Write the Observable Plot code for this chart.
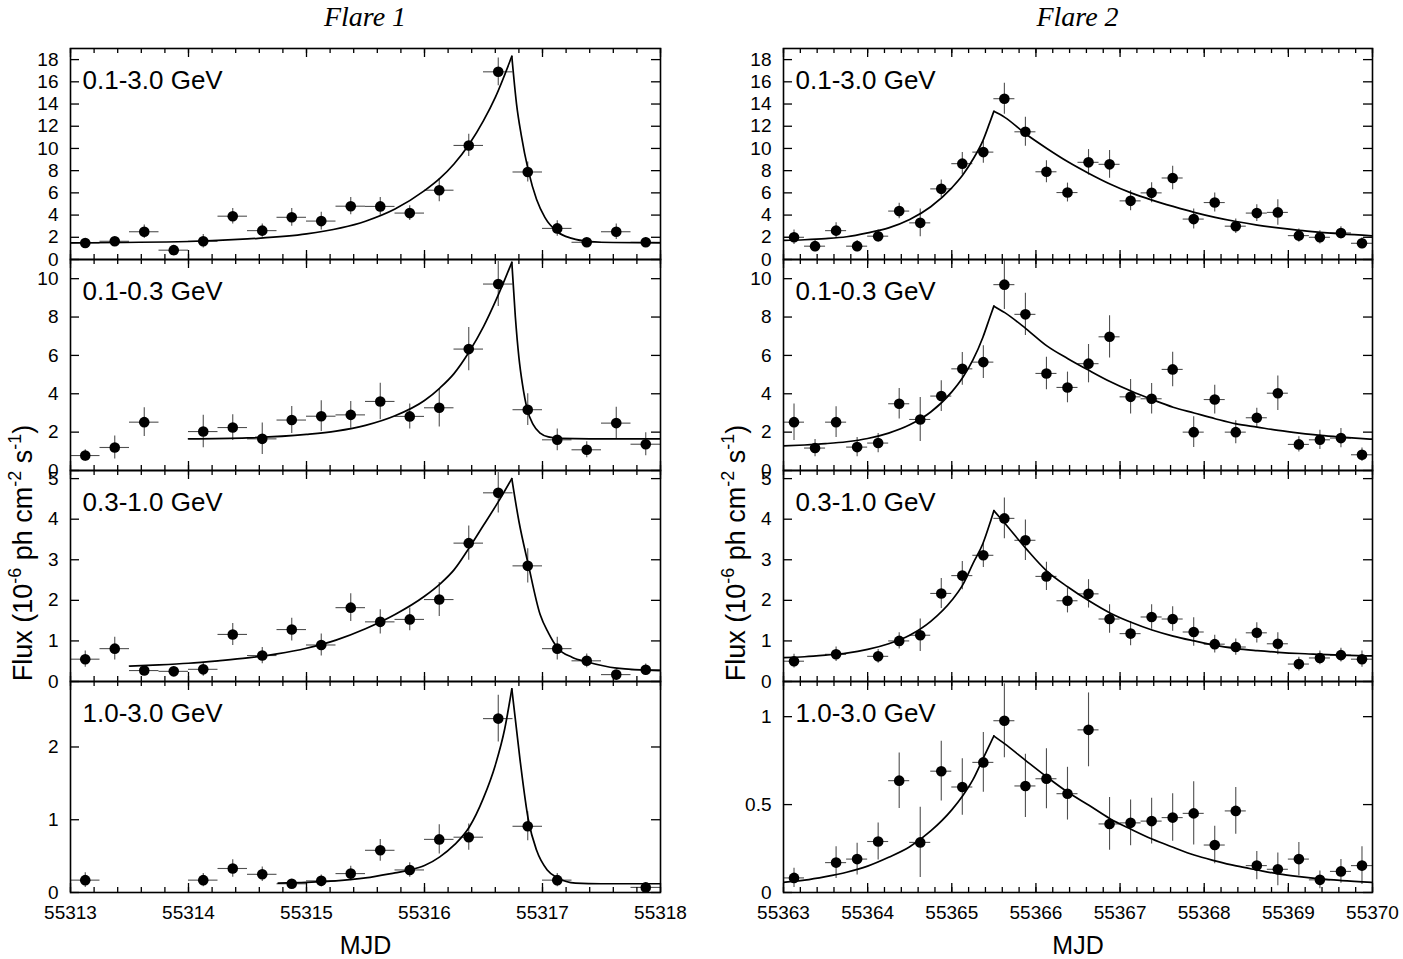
<!DOCTYPE html>
<html><head><meta charset="utf-8">
<script src="https://cdn.jsdelivr.net/npm/d3@7"></script>
<script src="https://cdn.jsdelivr.net/npm/@observablehq/plot@0.6"></script>
<style>
body{margin:0;background:#fff;}
#chart{position:relative;width:1403px;height:959px;overflow:hidden;background:#fff;font-family:"Liberation Sans",Arial,Helvetica,sans-serif;color:#000;}
.title{position:absolute;top:1px;width:300px;text-align:center;font-family:"Liberation Serif","Times New Roman",serif;font-style:italic;font-size:28px;line-height:32px;}
.ytitle{position:absolute;white-space:nowrap;font-size:27px;line-height:30px;transform:translate(-50%,-50%) rotate(-90deg);}
.ytitle sup{font-size:18px;vertical-align:0;position:relative;top:-0.6em;}
</style></head><body><div id="chart"></div>
<script>
// ---------- data ----------
const binHalfWidth = 0.125;
const flare1Times = [55313.125,55313.375,55313.625,55313.875,55314.125,55314.375,55314.625,55314.875,55315.125,55315.375,55315.625,55315.875,55316.125,55316.375,55316.625,55316.875,55317.125,55317.375,55317.625,55317.875];
const flare2Times = [55363.125,55363.375,55363.625,55363.875,55364.125,55364.375,55364.625,55364.875,55365.125,55365.375,55365.625,55365.875,55366.125,55366.375,55366.625,55366.875,55367.125,55367.375,55367.625,55367.875,55368.125,55368.375,55368.625,55368.875,55369.125,55369.375,55369.625,55369.875];

const bandLabels = ["0.1-3.0 GeV","0.1-0.3 GeV","0.3-1.0 GeV","1.0-3.0 GeV"];
const flare1XTicks = [55313,55314,55315,55316,55317,55318];
const flare2XTicks = [55363,55364,55365,55366,55367,55368,55369,55370];
const yTicksBand1 = [0,2,4,6,8,10,12,14,16,18];
const yTicksBand2 = [0,2,4,6,8,10];
const yTicksBand3 = [0,1,2,3,4,5];
const yTicksFlare1Band4 = [0,1,2];
const yTicksFlare2Band4 = [0,0.5,1];

// Flare 1 fluxes (1e-6 ph cm^-2 s^-1) and errors
const f1b1Flux = [1.49,1.64,2.5,0.84,1.64,3.9,2.6,3.8,3.46,4.8,4.78,4.18,6.24,10.27,16.9,7.88,2.8,1.55,2.5,1.55];
const f1b1Err  = [0.3,0.3,0.6,0.25,0.6,0.7,0.6,0.8,0.8,0.78,0.8,0.67,1.05,1.0,1.25,0.9,0.7,0.3,0.7,0.4];
const f1b2Flux = [0.78,1.2,2.52,null,2.03,2.24,1.65,2.63,2.83,2.9,3.6,2.82,3.27,6.33,9.72,3.17,1.6,1.08,2.47,1.37];
const f1b2Err  = [0.3,0.6,0.75,null,0.85,0.67,0.82,0.7,0.8,0.7,0.95,0.65,1.0,1.13,1.17,0.83,0.57,0.42,0.83,0.6];
const f1b3Flux = [0.55,0.81,0.27,0.25,0.3,1.16,0.64,1.28,0.9,1.82,1.47,1.53,2.02,3.41,4.65,2.85,0.81,0.51,0.17,0.29];
const f1b3Err  = [0.2,0.28,0.1,0.1,0.17,0.27,0.2,0.28,0.27,0.34,0.3,0.28,0.42,0.42,0.5,0.42,0.28,0.17,0.1,0.14];
const f1b4Flux = [0.17,null,null,null,0.17,0.33,0.25,0.12,0.16,0.26,0.58,0.31,0.73,0.76,2.39,0.91,0.17,null,null,0.07];
const f1b4Err  = [0.1,null,null,null,0.09,0.12,0.1,0.05,0.08,0.1,0.15,0.1,0.2,0.18,0.32,0.2,0.09,null,null,0.05];

// Flare 2 fluxes and errors
const f2b1Flux = [2.0,1.2,2.6,1.2,2.1,4.36,3.3,6.36,8.63,9.67,14.48,11.5,7.9,6.03,8.75,8.57,5.28,6.0,7.34,3.64,5.13,3.0,4.18,4.24,2.15,2.0,2.39,1.46];
const f2b1Err  = [0.65,0.5,0.7,0.5,0.55,0.7,1.25,0.8,1.0,1.0,1.4,1.3,1.0,0.85,1.15,1.25,0.9,0.9,1.05,0.9,0.85,0.65,0.75,1.15,0.6,0.6,0.55,0.5];
const f2b2Flux = [2.52,1.17,2.52,1.22,1.43,3.48,2.66,3.88,5.3,5.65,9.69,8.14,5.06,4.33,5.57,6.97,3.84,3.74,5.27,2.0,3.7,2.0,2.75,4.03,1.36,1.6,1.69,0.82];
const f2b2Err  = [0.95,0.45,0.8,0.5,0.5,0.8,1.15,0.8,0.85,0.85,1.3,1.1,0.85,0.8,1.0,1.1,0.9,0.8,0.9,0.8,0.75,0.6,0.5,0.9,0.4,0.5,0.5,0.35];
const f2b3Flux = [0.5,null,0.67,null,0.62,1.0,1.14,2.17,2.61,3.11,4.02,3.48,2.59,1.99,2.16,1.54,1.18,1.59,1.54,1.22,0.92,0.85,1.2,0.93,0.43,0.58,0.65,0.55];
const f2b3Err  = [0.17,null,0.18,null,0.17,0.2,0.4,0.37,0.35,0.3,0.5,0.5,0.35,0.3,0.35,0.35,0.3,0.3,0.3,0.35,0.22,0.2,0.25,0.27,0.17,0.17,0.17,0.2];
const f2b4Flux = [0.083,null,0.17,0.19,0.29,0.636,0.285,0.69,0.6,0.74,0.977,0.606,0.647,0.562,0.925,0.39,0.396,0.406,0.426,0.45,0.27,0.464,0.153,0.132,0.19,0.072,0.12,0.153];
const f2b4Err  = [0.055,null,0.09,0.09,0.105,0.158,0.2,0.17,0.16,0.17,0.21,0.18,0.17,0.15,0.21,0.15,0.13,0.13,0.135,0.18,0.107,0.133,0.08,0.093,0.095,0.05,0.068,0.107];

// Fitted light-curve model: rising and decaying branches [MJD, flux]
const f1b1Rise  = [[55313.0,1.5],[55314.0,1.62],[55314.5,1.85],[55315.0,2.3],[55315.5,3.45],[55315.75,4.55],[55316.0,6.2],[55316.13,7.3],[55316.25,8.6],[55316.38,10.4],[55316.5,12.5],[55316.6,14.6],[55316.74,18.3]];
const f1b1Decay = [[55316.74,18.3],[55316.78,14.0],[55316.82,11.2],[55316.88,8.0],[55316.95,5.4],[55317.02,3.8],[55317.125,2.5],[55317.25,1.9],[55317.4,1.62],[55317.6,1.53],[55318.0,1.5]];
const f1b2Rise  = [[55314.0,1.65],[55314.5,1.7],[55315.0,1.88],[55315.25,2.05],[55315.5,2.35],[55315.75,2.85],[55316.0,3.65],[55316.13,4.3],[55316.25,5.05],[55316.38,6.2],[55316.5,7.5],[55316.6,8.8],[55316.68,9.95],[55316.74,10.85]];
const f1b2Decay = [[55316.74,10.85],[55316.77,8.0],[55316.8,5.9],[55316.83,4.5],[55316.87,3.2],[55316.92,2.4],[55316.98,1.95],[55317.05,1.75],[55317.15,1.67],[55317.4,1.65],[55318.0,1.65]];
const f1b3Rise  = [[55313.5,0.38],[55313.75,0.41],[55314.0,0.45],[55314.25,0.51],[55314.5,0.58],[55314.75,0.68],[55315.0,0.82],[55315.25,1.02],[55315.5,1.3],[55315.75,1.65],[55316.0,2.1],[55316.13,2.4],[55316.25,2.75],[55316.38,3.3],[55316.5,3.85],[55316.63,4.45],[55316.74,5.0]];
const f1b3Decay = [[55316.74,5.0],[55316.8,3.95],[55316.88,2.88],[55316.98,1.65],[55317.05,1.2],[55317.13,0.82],[55317.25,0.6],[55317.38,0.48],[55317.63,0.33],[55318.0,0.27]];
const f1b4Rise  = [[55314.76,0.13],[55315.0,0.14],[55315.25,0.16],[55315.5,0.2],[55315.75,0.27],[55315.88,0.31],[55316.0,0.37],[55316.13,0.49],[55316.25,0.65],[55316.38,0.9],[55316.5,1.3],[55316.6,1.75],[55316.68,2.25],[55316.74,2.8]];
const f1b4Decay = [[55316.74,2.8],[55316.81,1.82],[55316.88,1.0],[55316.95,0.58],[55317.04,0.31],[55317.13,0.2],[55317.28,0.13],[55317.5,0.12],[55318.0,0.12]];

const f2b1Rise  = [[55363.0,1.72],[55363.25,1.78],[55363.5,1.88],[55363.75,2.05],[55364.0,2.4],[55364.25,2.85],[55364.5,3.6],[55364.75,4.75],[55365.0,6.45],[55365.13,7.6],[55365.25,9.0],[55365.37,10.7],[55365.45,12.3],[55365.5,13.34]];
const f2b1Decay = [[55365.5,13.34],[55365.63,12.8],[55365.88,11.3],[55366.13,10.0],[55366.38,8.8],[55366.63,7.75],[55366.88,6.8],[55367.13,6.0],[55367.38,5.35],[55367.63,4.78],[55367.88,4.25],[55368.13,3.8],[55368.38,3.42],[55368.63,3.1],[55368.88,2.84],[55369.13,2.62],[55369.38,2.45],[55369.63,2.3],[55370.0,2.13]];
const f2b2Rise  = [[55363.0,1.28],[55363.25,1.33],[55363.5,1.4],[55363.75,1.5],[55364.0,1.67],[55364.25,1.95],[55364.5,2.38],[55364.75,3.05],[55365.0,4.1],[55365.13,4.85],[55365.25,5.75],[55365.37,6.95],[55365.45,7.95],[55365.5,8.57]];
const f2b2Decay = [[55365.5,8.57],[55365.63,8.23],[55365.88,7.4],[55366.13,6.5],[55366.38,5.83],[55366.63,5.22],[55366.88,4.64],[55367.13,4.14],[55367.38,3.7],[55367.63,3.3],[55367.88,3.0],[55368.13,2.7],[55368.38,2.43],[55368.63,2.26],[55368.88,2.09],[55369.13,1.95],[55369.38,1.83],[55369.63,1.74],[55370.0,1.63]];
const f2b3Rise  = [[55363.0,0.59],[55363.25,0.61],[55363.5,0.65],[55363.75,0.7],[55364.0,0.79],[55364.25,0.93],[55364.5,1.14],[55364.75,1.48],[55365.0,2.0],[55365.13,2.38],[55365.25,2.9],[55365.37,3.4],[55365.45,3.88],[55365.5,4.21]];
const f2b3Decay = [[55365.5,4.21],[55365.63,3.9],[55365.88,3.28],[55366.13,2.72],[55366.38,2.33],[55366.63,1.99],[55366.88,1.69],[55367.13,1.46],[55367.38,1.27],[55367.63,1.12],[55367.88,1.0],[55368.13,0.89],[55368.38,0.81],[55368.63,0.76],[55368.88,0.72],[55369.13,0.69],[55369.38,0.67],[55369.63,0.65],[55370.0,0.63]];
const f2b4Rise  = [[55363.0,0.058],[55363.25,0.07],[55363.5,0.09],[55363.75,0.115],[55364.0,0.15],[55364.25,0.2],[55364.5,0.26],[55364.75,0.35],[55365.0,0.47],[55365.13,0.55],[55365.25,0.64],[55365.37,0.76],[55365.45,0.84],[55365.5,0.89]];
const f2b4Decay = [[55365.5,0.89],[55365.63,0.845],[55365.88,0.75],[55366.13,0.657],[55366.38,0.57],[55366.63,0.496],[55366.88,0.42],[55367.13,0.36],[55367.38,0.304],[55367.63,0.257],[55367.88,0.213],[55368.13,0.18],[55368.38,0.151],[55368.63,0.128],[55368.88,0.106],[55369.13,0.09],[55369.38,0.077],[55369.63,0.068],[55370.0,0.058]];

// ---------- drawing ----------
const chart = document.getElementById("chart");
const FONT = '"Liberation Sans", Arial, Helvetica, sans-serif';
const H = 211;
const rowTops = [48, 259, 470, 681];
const colLeft = [70, 783];
const colWidth = [590, 589];

function panel(o) {
  const W = o.W, ml = 60, mr = 20, mt = 20, mb = 70;
  const pts = o.times.map((t, i) => ({t, f: o.flux[i], e: o.err[i]})).filter(d => d.f != null);
  const curve = [
    ...o.rise.map(([t, f]) => ({t, f, seg: "rise"})),
    ...o.decay.map(([t, f]) => ({t, f, seg: "decay"}))
  ];
  const minor = d3.range(o.xDomain[0], o.xDomain[1] + 1e-9, 0.2).map(v => +v.toFixed(2));
  const tk = {stroke: "black", strokeWidth: 1.3};
  const marks = [
    Plot.ruleY(pts, {y: "f", x1: d => d.t - binHalfWidth, x2: d => d.t + binHalfWidth, stroke: "#505050", strokeWidth: 1.1, clip: true}),
    Plot.ruleX(pts, {x: "t", y1: d => d.f - d.e, y2: d => d.f + d.e, stroke: "#505050", strokeWidth: 1.1, clip: true}),
    Plot.line(curve, {x: "t", y: "f", z: "seg", curve: "monotone-x", stroke: "black", strokeWidth: 1.7, clip: true}),
    Plot.dot(pts, {x: "t", y: "f", r: 5.3, fill: "black", stroke: "none"}),
    Plot.tickX(o.xTicks, {x: d => d, insetTop: H - 9, ...tk}),
    Plot.tickX(o.xTicks, {x: d => d, insetBottom: H - 9, ...tk}),
    Plot.tickX(minor, {x: d => d, insetTop: H - 5, ...tk}),
    Plot.tickX(minor, {x: d => d, insetBottom: H - 5, ...tk}),
    Plot.tickY(o.yTicks, {y: d => d, insetRight: W - 9, ...tk}),
    Plot.tickY(o.yTicks, {y: d => d, insetLeft: W - 9, ...tk}),
    Plot.frame({stroke: "black", strokeWidth: 1.6}),
    Plot.axisY({ticks: o.yTicks, tickSize: 0, tickPadding: 12, tickFormat: d => String(d), label: null, fontSize: 19}),
    Plot.text([o.label], {text: d => d, frameAnchor: "top-left", dx: 12, dy: 32, textAnchor: "start", lineAnchor: "middle", fontSize: 26})
  ];
  if (o.showX) {
    marks.push(Plot.axisX({ticks: o.xTicks, tickSize: 0, tickPadding: 13, tickFormat: d => String(d), label: null, fontSize: 19}));
    marks.push(Plot.text(["MJD"], {text: d => d, frameAnchor: "bottom", dy: 53, lineAnchor: "middle", fontSize: 25}));
  }
  const svg = Plot.plot({
    width: W + ml + mr, height: H + mt + mb,
    marginLeft: ml, marginRight: mr, marginTop: mt, marginBottom: mb,
    x: {domain: o.xDomain, axis: null},
    y: {domain: o.yDomain, axis: null},
    style: {background: "transparent", overflow: "visible", fontSize: "19px", fontFamily: FONT, color: "black"},
    marks
  });
  svg.style.position = "absolute";
  svg.style.left = (o.left - ml) + "px";
  svg.style.top = (o.top - mt) + "px";
  chart.appendChild(svg);
}

const flare1 = [
  {flux: f1b1Flux, err: f1b1Err, rise: f1b1Rise, decay: f1b1Decay, yDomain: [0, 19], yTicks: yTicksBand1},
  {flux: f1b2Flux, err: f1b2Err, rise: f1b2Rise, decay: f1b2Decay, yDomain: [0, 11], yTicks: yTicksBand2},
  {flux: f1b3Flux, err: f1b3Err, rise: f1b3Rise, decay: f1b3Decay, yDomain: [0, 5.2], yTicks: yTicksBand3},
  {flux: f1b4Flux, err: f1b4Err, rise: f1b4Rise, decay: f1b4Decay, yDomain: [0, 2.9], yTicks: yTicksFlare1Band4}
];
const flare2 = [
  {flux: f2b1Flux, err: f2b1Err, rise: f2b1Rise, decay: f2b1Decay, yDomain: [0, 19], yTicks: yTicksBand1},
  {flux: f2b2Flux, err: f2b2Err, rise: f2b2Rise, decay: f2b2Decay, yDomain: [0, 11], yTicks: yTicksBand2},
  {flux: f2b3Flux, err: f2b3Err, rise: f2b3Rise, decay: f2b3Decay, yDomain: [0, 5.2], yTicks: yTicksBand3},
  {flux: f2b4Flux, err: f2b4Err, rise: f2b4Rise, decay: f2b4Decay, yDomain: [0, 1.2], yTicks: yTicksFlare2Band4}
];

flare1.forEach((p, i) => panel({...p, times: flare1Times, xDomain: [55313, 55318], xTicks: flare1XTicks,
  label: bandLabels[i], showX: i === 3, left: colLeft[0], top: rowTops[i], W: colWidth[0]}));
flare2.forEach((p, i) => panel({...p, times: flare2Times, xDomain: [55363, 55370], xTicks: flare2XTicks,
  label: bandLabels[i], showX: i === 3, left: colLeft[1], top: rowTops[i], W: colWidth[1]}));

// titles
function addDiv(cls, html, css) {
  const d = document.createElement("div");
  d.className = cls; d.innerHTML = html;
  Object.assign(d.style, css);
  chart.appendChild(d);
}
addDiv("title", "Flare 1", {left: (colLeft[0] + colWidth[0] / 2 - 150) + "px"});
addDiv("title", "Flare 2", {left: (colLeft[1] + colWidth[1] / 2 - 150) + "px"});
const yTitle = "Flux (10<sup>-6</sup> ph cm<sup>-2</sup> s<sup>-1</sup>)";
addDiv("ytitle", yTitle, {left: "24px", top: "553px"});
addDiv("ytitle", yTitle, {left: "737px", top: "553px"});
</script></body></html>
